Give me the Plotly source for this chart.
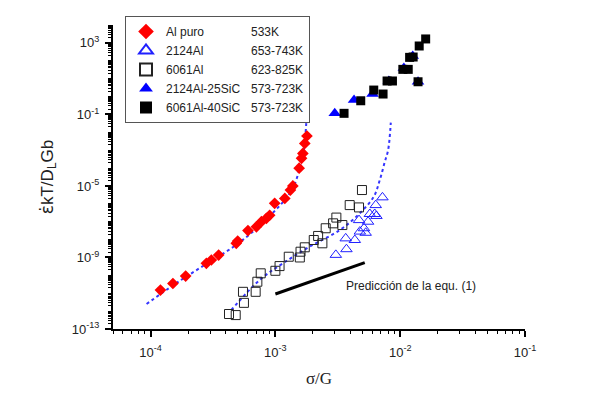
import numpy as np
import plotly.graph_objects as go

# ---------------- data ----------------
al_x = [1.20e-4, 1.51e-4, 1.91e-4, 2.80e-4, 3.07e-4, 3.51e-4, 4.86e-4, 4.99e-4, 6.03e-4, 7.05e-4,
        7.73e-4, 8.48e-4, 9.00e-4, 9.87e-4, 1.19e-3, 1.32e-3, 1.38e-3, 1.55e-3, 1.62e-3, 1.66e-3,
        1.72e-3, 1.79e-3]
al_y = [1.5e-11, 3.5e-11, 9.1e-11, 4.7e-10, 7.2e-10, 1.37e-9, 6.2e-9, 8.3e-9, 3.2e-8, 5.2e-8,
        1.0e-7, 1.55e-7, 2.3e-7, 1.07e-6, 2.0e-6, 5.9e-6, 1.0e-5, 9.8e-5, 3.5e-4, 6.6e-4,
        2.4e-3, 6.2e-3]

a2124_x = [3.05e-3, 3.71e-3, 3.66e-3, 4.33e-3, 4.68e-3, 5.13e-3, 5.29e-3, 5.53e-3, 5.71e-3, 6.25e-3,
           6.45e-3, 6.37e-3, 7.21e-3, 4.75e-3]
a2124_y = [1.4e-9, 2.9e-9, 1.17e-8, 9.5e-9, 1.23e-7, 4.3e-8, 2.4e-8, 1.0e-7, 2.7e-7, 2.7e-7,
           2.1e-7, 8.5e-7, 2.3e-6, 2.8e-8]

a6061_x = [4.25e-4, 4.81e-4, 5.6e-4, 5.5e-4, 6.95e-4, 7.17e-4, 7.63e-4, 1.0e-3, 1.08e-3, 1.28e-3,
           1.57e-3, 1.59e-3, 1.72e-3, 2.03e-3, 2.2e-3, 2.38e-3, 2.53e-3, 2.9e-3, 3.08e-3, 3.44e-3,
           3.94e-3, 4.68e-3, 4.94e-3]
a6061_y = [6.9e-13, 6.0e-13, 2.9e-12, 1.2e-11, 1.2e-11, 4.4e-11, 1.3e-10, 1.8e-10, 3.3e-10, 1.1e-9,
           1.0e-9, 2.1e-9, 3.7e-9, 9.5e-9, 1.6e-8, 6.2e-9, 4.3e-8, 8.1e-8, 1.7e-7, 6.5e-8,
           8.5e-7, 6.3e-7, 5.9e-6]

sic25_x = [2.99e-3, 4.27e-3, 6.0e-3, 8.11e-3, 1.07e-2, 1.26e-2, 1.39e-2]
sic25_y = [0.115, 0.64, 1.38, 7.4, 39, 187, 6.7]

sic40_x = [3.55e-3, 4.83e-3, 6.14e-3, 7.29e-3, 7.85e-3, 8.67e-3, 1.05e-2, 1.16e-2, 1.19e-2, 1.27e-2,
           1.42e-2, 1.60e-2, 1.39e-2]
sic40_y = [0.115, 0.58, 2.3, 1.38, 7.4, 7.4, 33, 33, 155, 162, 670, 1660, 6.7]

fit1_x = [9.29e-5, 1.56e-4, 2.71e-4, 4.72e-4, 6.83e-4, 9.0e-4, 1.15e-3, 1.38e-3, 1.57e-3, 1.69e-3, 1.78e-3]
fit1_y = [2.5e-12, 3.2e-11, 3.8e-10, 4.4e-9, 3.4e-8, 2.1e-7, 1.26e-6, 7.6e-6, 1.0e-4, 1.0e-3, 0.071]

fit2_x = [4.43e-4, 7.48e-4, 1.15e-3, 1.88e-3, 3.28e-3, 4.75e-3, 6.14e-3, 6.86e-3, 7.52e-3, 8.0e-3, 8.41e-3]
fit2_y = [1.15e-12, 5.5e-11, 4.7e-10, 4.0e-9, 3.4e-8, 3.0e-7, 2.5e-6, 2.1e-5, 2.2e-4, 1.0e-3, 0.035]

pred_x = [1.0e-3, 5.2e-3]
pred_y = [9.1e-12, 5.1e-10]

legend_names = ["Al puro", "2124Al", "6061Al", "2124Al-25SiC", "6061Al-40SiC"]
legend_temps = ["533K", "653-743K", "623-825K", "573-723K", "573-723K"]

y_labeled = [-13, -9, -5, -1, 3]
x_decades = [-4, -3, -2, -1]

# ---------------- helpers ----------------
FONT = "Liberation Sans, Arial, sans-serif"
LEG_SIZE = 12
# Arial / Liberation Sans advance widths (em)
_W = {"A": .667, "l": .222, " ": .278, "p": .556, "u": .556, "r": .333, "o": .556, "-": .333,
      "S": .667, "i": .222, "C": .722, "K": .667}
for _d in "0123456789":
    _W[_d] = .556


def text_w(s, size=LEG_SIZE):
    return sum(_W.get(c, .556) for c in s) * size


def legend_label(name, temp, col=85.0):
    gap = col - text_w(name)
    nb = .278 * LEG_SIZE
    n = int(gap // nb)
    rem = gap - n * nb
    pad = "\u00a0" * n
    if rem > 0.2:
        pad += f'<span style="font-size:{rem / .278:.2f}px">\u00a0</span>'
    return name + pad + temp


# The page body has an 8px default margin: the figure is shifted by it.
OFF = 8
W, H = 600 - OFF, 397 - OFF
PL, PR, PT, PB = 113, 525, 25, 329   # plot area in page pixels
PW, PH = PR - PL, PB - PT

# ---------------- figure ----------------
fig = go.Figure()

dot_blue = "#3535ff"
fig.add_trace(go.Scatter(x=fit1_x, y=fit1_y, mode="lines", line=dict(color=dot_blue, width=2, dash="dot", shape="spline"),
                         showlegend=False, hoverinfo="skip"))
fig.add_trace(go.Scatter(x=fit2_x, y=fit2_y, mode="lines", line=dict(color=dot_blue, width=2, dash="dot", shape="spline"),
                         showlegend=False, hoverinfo="skip"))
fig.add_trace(go.Scatter(x=pred_x, y=pred_y, mode="lines", line=dict(color="black", width=3),
                         showlegend=False, hoverinfo="skip"))

fig.add_trace(go.Scatter(x=al_x, y=al_y, mode="markers", name=legend_label(legend_names[0], legend_temps[0]),
                         marker=dict(symbol="diamond", size=9, color="#ff0000", line=dict(width=0))))
fig.add_trace(go.Scatter(x=a2124_x, y=a2124_y, mode="markers", name=legend_label(legend_names[1], legend_temps[1]),
                         marker=dict(symbol="triangle-up-open", size=10, color="#2020ff", line=dict(width=1))))
fig.add_trace(go.Scatter(x=a6061_x, y=a6061_y, mode="markers", name=legend_label(legend_names[2], legend_temps[2]),
                         marker=dict(symbol="square-open", size=9, color="#222222", line=dict(width=1))))
fig.add_trace(go.Scatter(x=sic25_x, y=sic25_y, mode="markers", name=legend_label(legend_names[3], legend_temps[3]),
                         marker=dict(symbol="triangle-up", size=11, color="#0000ff", line=dict(width=0))))
fig.add_trace(go.Scatter(x=sic40_x, y=sic40_y, mode="markers", name=legend_label(legend_names[4], legend_temps[4]),
                         marker=dict(symbol="square", size=9, color="#000000", line=dict(width=0))))

# Predicción label
fig.add_annotation(x=np.log10(3.53e-3), y=np.log10(2.5e-11), xref="x", yref="y", text="Predicción de la equ. (1)",
                   showarrow=False, xanchor="left", yanchor="middle", font=dict(family=FONT, size=12, color="#222"))

y_tickvals = [10.0 ** d for d in y_labeled]
y_ticktext = [f"10<sup>{d}</sup>" for d in y_labeled]
y_minor = [k * 10.0 ** d for d in range(-13, 4) for k in range(1, 10)
           if not (k == 1 and d in y_labeled)] + [1e4]
x_tickvals = [10.0 ** d for d in x_decades]
x_ticktext = [f"10<sup>{d}</sup>" for d in x_decades]
x_minor = [k * 10.0 ** d for d in range(-5, -1) for k in range(2, 10) if 5e-5 <= k * 10.0 ** d <= 0.1]

fig.update_layout(
    width=W, height=H,
    margin=dict(l=PL - OFF, r=W - (PR - OFF), t=PT - OFF, b=H - (PB - OFF), autoexpand=False),
    paper_bgcolor="white", plot_bgcolor="white",
    font=dict(family=FONT, size=13, color="#222"),
    showlegend=True,
    legend=dict(x=(125 - PL) / PW, y=(PB - 16) / PH, xanchor="left", yanchor="top",
                bgcolor="white", bordercolor="#555", borderwidth=1,
                font=dict(family=FONT, size=LEG_SIZE, color="#222"), itemwidth=30,
                itemsizing="constant", tracegroupgap=0),
    xaxis=dict(type="log", range=[np.log10(5e-5), -1], showgrid=False, zeroline=False, automargin=False,
               showline=True, linecolor="black", linewidth=2, mirror=False,
               tickmode="array", tickvals=x_tickvals, ticktext=x_ticktext,
               ticks="outside", ticklen=6, tickwidth=1.5, tickcolor="black", ticklabelstandoff=4,
               tickfont=dict(family=FONT, size=13, color="#222"),
               minor=dict(tickmode="array", tickvals=x_minor, ticks="outside", ticklen=3, tickwidth=1, tickcolor="black", showgrid=False),
               title=dict(text="σ/G", font=dict(family="Liberation Serif, Times New Roman, serif", size=17, color="#222"), standoff=14)),
    yaxis=dict(type="log", range=[-13, 4], showgrid=False, zeroline=False, automargin=False,
               showline=True, linecolor="black", linewidth=2, mirror=False,
               tickmode="array", tickvals=y_tickvals, ticktext=y_ticktext,
               ticks="outside", ticklen=6, tickwidth=1.5, tickcolor="black", ticklabelstandoff=3,
               tickfont=dict(family=FONT, size=13, color="#222"),
               minor=dict(tickmode="array", tickvals=y_minor, ticks="outside", ticklen=3, tickwidth=1, tickcolor="black", showgrid=False),
               title=dict(text='<span style="font-family:DejaVu Sans">ε\u0307</span>kT/D<sub>L</sub>Gb',
                          font=dict(family=FONT, size=17, color="#222"), standoff=14)),
)

fig.write_html("out.html")
